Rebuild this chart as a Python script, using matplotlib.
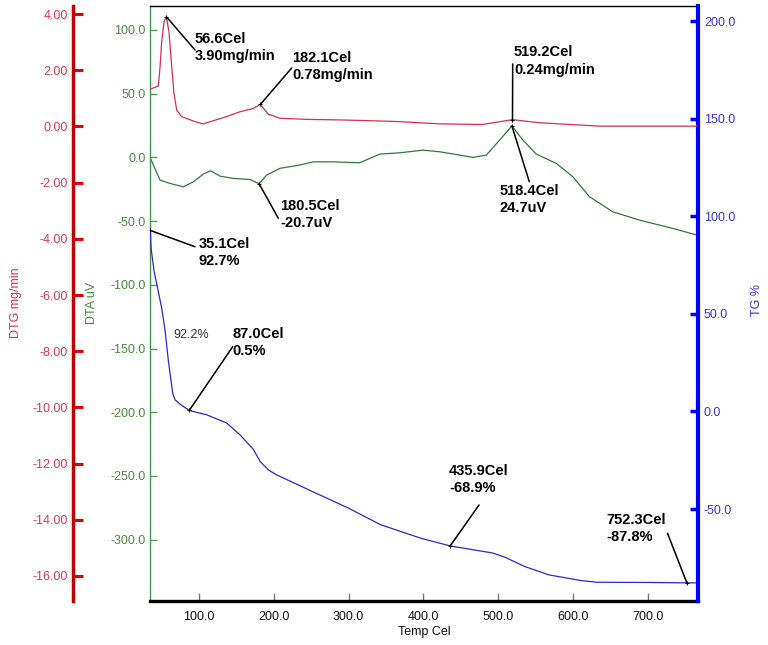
import matplotlib
matplotlib.use("Agg")
import matplotlib.pyplot as plt

plt.rcParams['font.family'] = ['Liberation Sans', 'DejaVu Sans']

# ---------------- data ----------------
x_ticks = [100, 200, 300, 400, 500, 600, 700]
dta_ticks = [100, 50, 0, -50, -100, -150, -200, -250, -300]
dtg_ticks = [4, 2, 0, -2, -4, -6, -8, -10, -12, -14, -16]
tg_ticks = [200, 150, 100, 50, 0, -50]

dtg_T = [34.6, 45.7, 48.0, 50.2, 53.5, 56.6, 60.0, 63.6, 66.5, 70.3, 76.9, 94.7,
         105.8, 119.2, 137.0, 154.8, 172.6, 182.1, 192.6, 208.2, 243.9, 290.0,
         332.4, 368.5, 421.9, 479.3, 519.2, 555.4, 635.6, 766.0]
dtg_v = [1.32, 1.44, 2.10, 3.00, 3.75, 3.90, 3.35, 2.15, 1.20, 0.58, 0.35, 0.17,
         0.09, 0.20, 0.35, 0.52, 0.64, 0.78, 0.44, 0.29, 0.25, 0.23,
         0.20, 0.17, 0.09, 0.07, 0.24, 0.13, 0.01, 0.01]

dta_T = [34.6, 48.0, 61.3, 79.1, 92.4, 105.8, 115.7, 128.1, 145.9, 168.1, 180.5,
         190.4, 208.2, 234.9, 252.7, 279.4, 315.0, 341.8, 368.5, 399.6, 421.9,
         448.6, 466.4, 484.3, 502.0, 518.4, 533.1, 551.0, 577.7, 599.9, 622.2,
         653.3, 688.8, 733.4, 766.0]
dta_v = [0.0, -17.8, -20.4, -23.1, -19.2, -13.1, -10.5, -14.7, -16.5, -17.3, -20.7,
         -13.9, -8.6, -6.0, -3.5, -3.5, -4.2, 2.6, 3.6, 5.7, 4.4,
         1.8, 0.0, 1.8, 13.6, 24.7, 13.6, 2.6, -4.7, -15.2, -30.9,
         -42.7, -49.2, -55.7, -61.0]

tg_T = [35.1, 36.2, 40.0, 44.3, 50.2, 54.6, 59.0, 64.9, 68.0, 74.6, 87.0, 110.3,
        137.0, 154.7, 172.5, 181.9, 192.7, 203.4, 251.6, 299.8, 342.7, 396.3,
        435.9, 492.5, 508.7, 535.3, 567.6, 610.5, 632.0, 700.0, 752.3, 766.0]
tg_v = [92.7, 83.0, 72.0, 64.0, 53.0, 41.9, 26.5, 9.4, 6.0, 3.8, 0.5, -1.7,
        -5.9, -11.9, -19.3, -25.6, -29.9, -32.4, -41.0, -49.5, -58.0, -64.9,
        -68.9, -72.5, -74.6, -79.4, -83.7, -86.6, -87.5, -87.6, -87.8, -87.8]

# annotations: (text, T, value, text-left px, text-top px, line-end px)
dtg_notes = [("56.6Cel\n3.90mg/min", 56.6, 3.90, 195, 32, 195, 50),
             ("182.1Cel\n0.78mg/min", 182.1, 0.78, 292.5, 50.5, 291.7, 68),
             ("519.2Cel\n0.24mg/min", 519.2, 0.24, 514, 45.5, 512.7, 64)]
dta_notes = [("518.4Cel\n24.7uV", 518.4, 24.7, 500, 184, 529.3, 181.7),
             ("180.5Cel\n-20.7uV", 180.5, -20.7, 280, 199, 278.3, 218.3)]
tg_notes = [("35.1Cel\n92.7%", 35.1, 92.7, 198.3, 236.5, 195, 246.7),
            ("87.0Cel\n0.5%", 87.0, 0.5, 232.7, 327, 232.7, 346.7),
            ("435.9Cel\n-68.9%", 435.9, -68.9, 449, 464, 479, 505),
            ("752.3Cel\n-87.8%", 752.3, -87.8, 606.5, 513, 667.5, 533.3)]

# ---------------- figure ----------------
W, H = 768, 645
fig = plt.figure(figsize=(W / 100, H / 100), dpi=100)
L, R, T, B = 150, 697.7, 6, 601
ax = fig.add_axes([L / W, 1 - B / H, (R - L) / W, (B - T) / H])
ax2 = ax.twinx()
ax3 = ax.twinx()

ax.set_xlim(34.6, 766.8)
ax.set_ylim(-348.1, 118.8)
ax2.set_ylim(-97.1, 207.7)
ax3.set_ylim(-16.89, 4.285)

green_line = '#2f7a3a'
red_line = '#d43050'
blue_line = '#2a2ac8'

ax.plot(dta_T, dta_v, color=green_line, lw=0.9)
ax3.plot(dtg_T, dtg_v, color=red_line, lw=0.9)
ax2.plot(tg_T, tg_v, color=blue_line, lw=0.9)

# spines
ax.spines['right'].set_visible(False)
ax.spines['left'].set_color('#3c9a50')
ax.spines['left'].set_linewidth(1.0)
ax.spines['top'].set_color('black')
ax.spines['top'].set_linewidth(1.0)
ax.spines['bottom'].set_color('black')
ax.spines['bottom'].set_linewidth(2.4)

for s in ['left', 'top', 'bottom']:
    ax2.spines[s].set_visible(False)
ax2.spines['right'].set_color('#0000ff')
ax2.spines['right'].set_linewidth(3.0)

for s in ['right', 'top', 'bottom']:
    ax3.spines[s].set_visible(False)
ax3.spines['left'].set_visible(True)
ax3.spines['left'].set_position(('axes', -77 / (R - L)))
ax3.spines['left'].set_color('#c00000')
ax3.spines['left'].set_linewidth(2.5)
ax3.yaxis.set_ticks_position('left')
ax3.yaxis.set_label_position('left')

# ticks
ax.set_xticks(x_ticks)
ax.set_xticklabels([f"{v:.1f}" for v in x_ticks])
ax.tick_params(axis='x', direction='in', length=6, width=1, color='#777777',
               labelsize=9, labelcolor='#111111', pad=7)
ax.set_yticks(dta_ticks)
ax.set_yticklabels([f"{v:.1f}" for v in dta_ticks])
ax.tick_params(axis='y', direction='in', length=5, width=1, color='#5a9a4a',
               labelsize=9, labelcolor='#4a8a3a', pad=3)

ax2.set_yticks(tg_ticks)
ax2.set_yticklabels([f"{v:.1f}" for v in tg_ticks])
ax2.tick_params(axis='y', direction='in', length=6, width=2.5, color='#0000ff',
                labelsize=9, labelcolor='#3535c8', pad=4.5)

ax3.set_yticks(dtg_ticks)
ax3.set_yticklabels([f"{v:.2f}" for v in dtg_ticks])
ax3.tick_params(axis='y', direction='in', length=7, width=2.2, color='#e00000',
                labelsize=9, labelcolor='#e03858', pad=3.5)

ax.set_xlabel("Temp Cel", fontsize=9, color='#111111', labelpad=2)

# axis titles
fig.text(16 / W, 1 - 303 / H, "DTG mg/min", rotation=90, ha='center', va='center',
         fontsize=9, color='#e03050')
fig.text(92 / W, 1 - 303 / H, "DTA uV", rotation=90, ha='center', va='center',
         fontsize=9, color='#3c8c3c')
fig.text(757 / W, 1 - 300 / H, "TG %", rotation=90, ha='center', va='center',
         fontsize=9, color='#3535c8')


def note(axis, txt, xv, yv, tx, ty, lx, ly):
    axis.annotate('', xy=(xv, yv), xycoords='data', xytext=(lx, H - ly),
                  textcoords='figure pixels',
                  arrowprops=dict(arrowstyle='-', color='black', lw=1.1,
                                  shrinkA=0, shrinkB=0))
    axis.plot([xv], [yv], marker='+', color='black', ms=2.5, mew=0.7)
    fig.text(tx / W, 1 - ty / H, txt, ha='left', va='top', fontsize=10.5,
             fontweight='bold', color='black', linespacing=1.3)


for n in dtg_notes:
    note(ax3, *n)
for n in dta_notes:
    note(ax, *n)
for n in tg_notes:
    note(ax2, *n)

fig.text(173.3 / W, 1 - 329 / H, "92.2%", ha='left', va='top', fontsize=9,
         color='#333333')

fig.savefig("out.png", dpi=100)
